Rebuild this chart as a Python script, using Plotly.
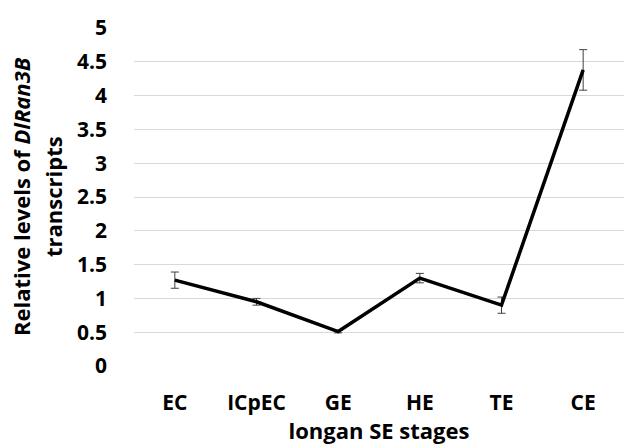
import plotly.graph_objects as go

stages = ["EC", "ICpEC", "GE", "HE", "TE", "CE"]
levels = [1.27, 0.95, 0.51, 1.30, 0.90, 4.38]
errors = [0.12, 0.05, 0.02, 0.07, 0.12, 0.30]
y_ticks = [0, 0.5, 1, 1.5, 2, 2.5, 3, 3.5, 4, 4.5, 5]
y_tick_text = ["0", "0.5", "1", "1.5", "2", "2.5", "3", "3.5", "4", "4.5", "5"]
y_title_lines = ["Relative levels of <i>DlRan3B</i>", "transcripts"]

FONT = "Open Sans"
W, H = 624, 445
L, R, T, B = 134, 0, 28, 79

fig = go.Figure()
fig.add_trace(go.Scatter(
    x=stages, y=levels, mode="lines",
    line=dict(color="black", width=3.5),
    error_y=dict(type="data", array=errors, visible=True,
                 color="#404040", thickness=1, width=4),
    showlegend=False,
))

fig.update_layout(
    width=W, height=H,
    margin=dict(l=L, r=R, t=T, b=B),
    paper_bgcolor="white", plot_bgcolor="white",
    font=dict(family=FONT, color="black"),
    xaxis=dict(
        range=[-0.5, 5.5], showgrid=False, zeroline=False, showline=False,
        tickfont=dict(size=21, family=FONT, weight="bold"),
        ticklabelstandoff=22,
        title=dict(text="longan SE stages", font=dict(size=22, family=FONT, weight="bold"), standoff=0),
    ),
    yaxis=dict(
        range=[0, 5], tickvals=y_ticks, ticktext=y_tick_text,
        showgrid=True, gridcolor="#d9d9d9", gridwidth=1,
        zeroline=False, showline=False,
        tickfont=dict(size=21, family=FONT, weight="bold"),
        ticklabelstandoff=26,
    ),
    annotations=[
        dict(text=txt, xref="paper", yref="paper",
             x=(px - L) / (W - L - R), y=0.5,
             xanchor="center", yanchor="middle",
             textangle=-90, showarrow=False,
             font=dict(size=22, family=FONT, weight="bold"))
        for txt, px in zip(y_title_lines, [21, 53])
    ],
)

fig.write_html("out.html")
